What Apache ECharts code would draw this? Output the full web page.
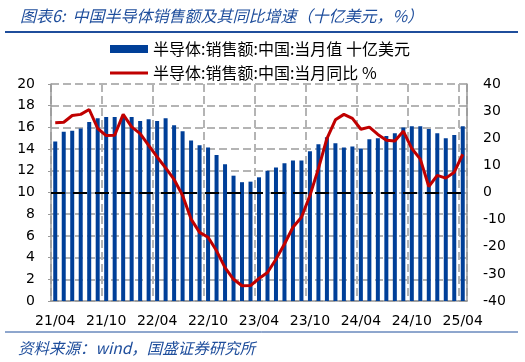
<!DOCTYPE html>
<html><head><meta charset="utf-8">
<script src="https://cdn.jsdelivr.net/npm/echarts@6/dist/echarts.min.js"></script>
<style>html,body{margin:0;padding:0;background:#fff}#c{width:525px;height:362px}</style>
</head><body><div id="c"></div>
<script>
const categories = ["21/04","21/05","21/06","21/07","21/08","21/09","21/10","21/11","21/12","22/01","22/02","22/03",
"22/04","22/05","22/06","22/07","22/08","22/09","22/10","22/11","22/12","23/01","23/02","23/03",
"23/04","23/05","23/06","23/07","23/08","23/09","23/10","23/11","23/12","24/01","24/02","24/03",
"24/04","24/05","24/06","24/07","24/08","24/09","24/10","24/11","24/12","25/01","25/02","25/03","25/04"];
const salesValue = [14.7,15.6,15.7,15.9,16.5,16.85,16.95,16.95,16.95,16.95,16.6,16.75,16.6,16.85,16.2,15.65,14.8,
14.35,14.15,13.45,12.6,11.55,10.95,11.0,11.4,12.0,12.3,12.7,12.95,12.95,13.8,14.45,15.1,14.55,
14.15,14.25,14.05,14.9,15.0,15.2,15.45,16.0,16.1,16.1,15.85,15.45,15.0,15.3,16.1];
const salesYoY = [25.7,25.9,28.4,28.8,30.6,23.6,21.0,21.1,28.8,24.2,21.7,17.4,13.1,9.1,4.8,-1.1,-9.8,
-14.7,-16.5,-21.5,-27.7,-32.0,-34.4,-34.3,-31.7,-29.5,-24.6,-19.0,-12.8,-9.1,-1.1,8.8,19.9,26.8,
28.8,27.3,23.3,24.1,21.4,19.3,19.0,22.6,16.2,12.3,2.2,6.3,5.3,7.5,14.1];
const leftTicks = {min:0, max:20, interval:2};
const rightTicks = {min:-40, max:40, interval:10};
const nameBar = "半导体:销售额:中国:当月值 十亿美元";
const nameLine = "半导体:销售额:中国:当月同比 %";

const chart = echarts.init(document.getElementById('c'));
const lblFont = {color:'#000', fontSize:14, fontFamily:'DejaVu Sans'};
chart.setOption({
  animation:false,
  title:{text:'图表6:  中国半导体销售额及其同比增速（十亿美元，%）', left:15, top:3,
    textStyle:{color:'#1f4e9c', fontSize:16, fontStyle:'italic', fontWeight:'normal', fontFamily:'Noto Sans CJK SC'}},
  graphic:[
    {type:'line', shape:{x1:5,y1:32,x2:518,y2:32}, style:{stroke:'#1f4e9c', lineWidth:2}},
    {type:'line', shape:{x1:5,y1:332,x2:518,y2:332}, style:{stroke:'#1f4e9c', lineWidth:1}},
    {type:'text', left:18, top:340, style:{text:'资料来源：wind，国盛证券研究所', fill:'#1f4e9c', fontSize:15.5, fontStyle:'italic', fontFamily:'Noto Sans CJK SC'}}
  ],
  legend:{orient:'vertical', left:105, top:36, itemWidth:38, itemHeight:8, itemGap:8,
    textStyle:{color:'#000', fontSize:16, lineHeight:15, fontFamily:'Noto Sans CJK SC'},
    data:[{name:nameBar, icon:'rect'},
          {name:nameLine, icon:'path://M0,0L0,0ZM0,2.5L38,2.5L38,5.5L0,5.5ZM38,8L38,8Z', itemStyle:{color:'#c00000'}}]},
  grid:{left:51, right:58, top:84, bottom:61},
  xAxis:{type:'category', data:categories, boundaryGap:true,
    axisLine:{lineStyle:{color:'#999', width:1.5}},
    axisTick:{show:false},
    axisLabel:Object.assign({interval:5, margin:13}, lblFont),
    splitLine:{show:true, interval:5, lineStyle:{color:'#b4b4b4', type:'dashed', width:2}}},
  yAxis:[
    {type:'value', min:leftTicks.min, max:leftTicks.max, interval:leftTicks.interval,
      axisLine:{show:true, lineStyle:{color:'#999', width:1.5}},
      axisTick:{show:true, length:3, lineStyle:{color:'#999'}},
      axisLabel:Object.assign({margin:16}, lblFont),
      splitLine:{show:true, lineStyle:{color:'#b4b4b4', type:'dashed', width:2}}},
    {type:'value', min:rightTicks.min, max:rightTicks.max, interval:rightTicks.interval,
      axisLine:{show:true, lineStyle:{color:'#999', width:1.5}},
      axisTick:{show:false},
      axisLabel:Object.assign({margin:16}, lblFont),
      splitLine:{show:false}}
  ],
  series:[
    {name:nameBar, type:'bar', data:salesValue, yAxisIndex:0, barWidth:4,
      itemStyle:{color:'#003f98'}},
    {name:nameLine, type:'line', data:salesYoY, yAxisIndex:1, symbol:'none', z:3,
      lineStyle:{color:'#c00000', width:3}, itemStyle:{color:'#c00000'},
      markLine:{silent:true, symbol:'none', label:{show:false},
        lineStyle:{color:'#000', width:2, type:[14,8]}, data:[{yAxis:0}]}}
  ]
});
</script></body></html>
